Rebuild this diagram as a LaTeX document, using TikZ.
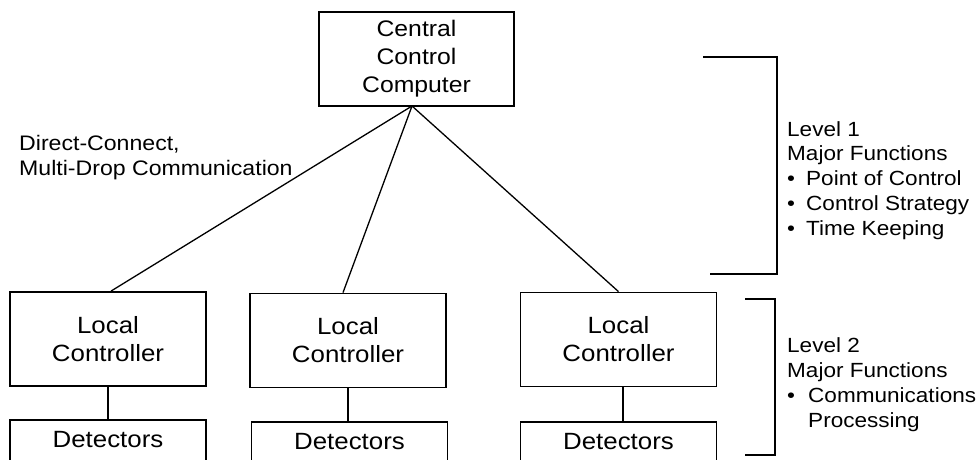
\documentclass[tikz,border=0pt]{standalone}
\usepackage{fontspec}
\setmainfont{Liberation Sans}[FakeStretch=1.1]
\usetikzlibrary{calc}
\begin{document}
\begin{tikzpicture}[x=1pt,y=-1pt,
  ctrlbox/.style={draw, line width=1.8pt, minimum width=196pt, minimum height=94pt,
    inner sep=0pt, align=center, font=\fontsize{23.5}{28}\selectfont},
  centralbox/.style={ctrlbox, minimum width=195pt, font=\fontsize{22.5}{28}\selectfont},
  detbox/.style={draw, line width=1.8pt, minimum width=196pt, inner sep=0pt,
    text height=28pt, text depth=45pt, anchor=north, font=\fontsize{23.5}{28}\selectfont},
  link/.style={line width=1.3pt},
  bracket/.style={line width=1.4pt},
  note/.style={anchor=base west, align=left, inner sep=0pt},
  levelfont/.style={font=\fontsize{20.5}{24.7}\selectfont},
]
\clip (0,0) rectangle (979,459);
\fill[white] (0,0) rectangle (979,459);

% central computer
\node[centralbox] (ccc) at (416.5,59) {Central\\Control\\Computer};
\coordinate (apex) at (412,106);

% local controllers
\node[ctrlbox] (lc1) at (108,339) {Local\\Controller};
\node[ctrlbox] (lc2) at (348,340.5) {Local\\Controller};
\node[ctrlbox] (lc3) at (618.5,339.5) {Local\\Controller};

% detector boxes (continue below the page edge)
\node[detbox] (d1) at (108,419) {Detectors};
\node[detbox] (d2) at (349.5,421) {Detectors};
\node[detbox] (d3) at (618.5,421) {Detectors};

% multi-drop communication lines
\draw[link] (apex) -- ([xshift=3pt]lc1.north);
\draw[link] (apex) -- ([xshift=-5pt]lc2.north);
\draw[link] (apex) -- (lc3.north);

% controller to detectors
\draw[link] (lc1.south) -- (lc1.south |- d1.north);
\draw[link] (lc2.south) -- (lc2.south |- d2.north);
\draw[link] ([xshift=4.5pt]lc3.south) -- ([xshift=4.5pt]lc3.south |- d3.north);

% communication label (anchored on the baseline of its last line)
\node[note, font=\fontsize{21}{25}\selectfont] (comm) at (19,175)
  {Direct-Connect,\\Multi-Drop Communication};

% level brackets
\draw[bracket] (703,57) -- (777,57) -- (777,274) -- (710,274);
\draw[bracket] (745,299) -- (775,299) -- (775,455) -- (745,455);

% level descriptions (anchored on the baseline of the last line)
\node[note, levelfont] (lvl1) at (787,235)
  {Level 1\\Major Functions\\
   \makebox[19pt][l]{\textbullet}Point of Control\\
   \makebox[19pt][l]{\textbullet}Control Strategy\\
   \makebox[19pt][l]{\textbullet}Time Keeping};
\node[note, levelfont] (lvl2) at (787,427)
  {Level 2\\Major Functions\\
   \makebox[21pt][l]{\textbullet}Communications\\
   \hspace*{21pt}Processing};
\end{tikzpicture}
\end{document}
